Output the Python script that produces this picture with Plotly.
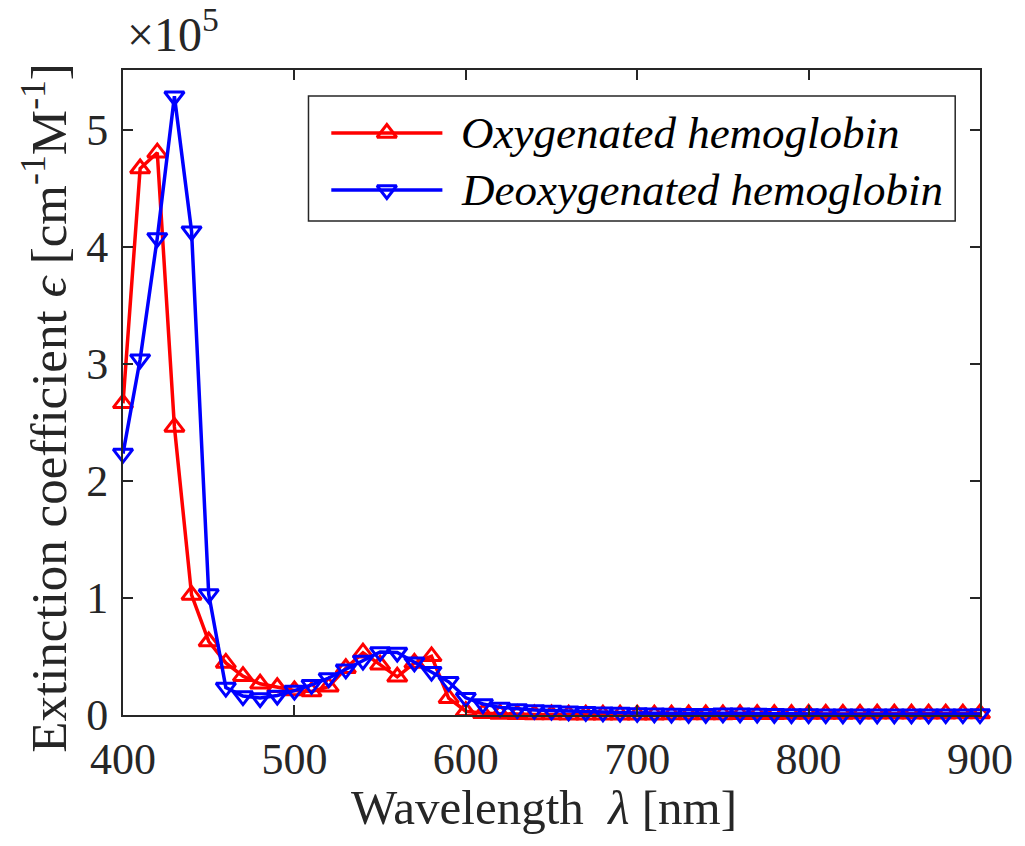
import plotly.graph_objects as go

# Molar extinction coefficients of hemoglobin, 10 nm steps
wavelength_nm = [400, 410, 420, 430, 440, 450, 460, 470, 480, 490,
                 500, 510, 520, 530, 540, 550, 560, 570, 580, 590,
                 600, 610, 620, 630, 640, 650, 660, 670, 680, 690,
                 700, 710, 720, 730, 740, 750, 760, 770, 780, 790,
                 800, 810, 820, 830, 840, 850, 860, 870, 880, 890, 900]

hbo2 = [266232, 466840, 480360, 246072, 102580, 62816, 44480, 33209.2, 26629.2, 23684.4,
        20932.8, 20035.2, 24202.4, 39956.8, 53236, 43016, 32613.2, 44496, 50104, 14400.8,
        3200, 1506, 942, 610, 442, 368, 319.6, 294, 277.6, 276,
        290, 314, 348, 390, 446, 518, 586, 652, 710, 770,
        816, 864, 916, 974, 1022, 1058, 1092, 1128, 1154, 1178, 1198]

hb = [223296, 303956, 407560, 528600, 413280, 103292, 23388.8, 16156.4, 14550, 16684,
      20862, 25773.6, 31589.6, 39036.4, 46592, 53788, 53412, 45072, 37020, 28324.4,
      14677.2, 9443.6, 6509.6, 5148.8, 4345.2, 3750.12, 3226.56, 2795.12, 2407.92, 2051.96,
      1794.28, 1540.48, 1325.88, 1102.2, 1115.88, 1405.24, 1548.52, 1311.88, 1075.44, 890.8,
      761.72, 717.08, 693.76, 693.04, 692.36, 691.32, 694.32, 705.84, 726.44, 743.6, 761.84]

series_names = ["Oxygenated hemoglobin", "Deoxygenated hemoglobin"]
series_colors = ["#FF0000", "#0000FF"]
series_symbols = ["triangle-up-open", "triangle-down-open"]
y_tick_vals = [0, 1e5, 2e5, 3e5, 4e5, 5e5]
y_tick_text = ["0", "1", "2", "3", "4", "5"]
x_tick_vals = [400, 500, 600, 700, 800, 900]

FONT = "Liberation Serif"
AXIS_COLOR = "#262626"
LINE_W = 3.5
MARKER_SIZE = 17
MARKER_LINE_W = 3

W, H = 1025, 846
ML, MR, MT, MB = 123, 38, 70, 131
pw, ph = W - ML - MR, H - MT - MB


def px_x(p):
    return (p - ML) / pw


def px_y(p):
    return (H - MB - p) / ph


fig = go.Figure()
for yvals, name, color, symbol in zip([hbo2, hb], series_names, series_colors, series_symbols):
    fig.add_trace(go.Scatter(
        x=wavelength_nm, y=yvals, name=name, mode="lines+markers",
        line=dict(color=color, width=LINE_W),
        marker=dict(symbol=symbol, size=MARKER_SIZE, color=color,
                    line=dict(width=MARKER_LINE_W, color=color)),
        cliponaxis=False, showlegend=False,
    ))

# Legend box drawn on a pixel-based overlay axis pair
legend_box = dict(x0=310, x1=962, y0=96, y1=221)
legend_rows_y = [133, 190]
sample_x = [333, 445]
text_x = 462

for row_y, name, color, symbol in zip(legend_rows_y, series_names, series_colors, series_symbols):
    fig.add_trace(go.Scatter(
        x=sample_x, y=[row_y, row_y], mode="lines", xaxis="x2", yaxis="y2",
        line=dict(color=color, width=LINE_W), showlegend=False, hoverinfo="skip",
    ))
    fig.add_trace(go.Scatter(
        x=[sum(sample_x) / 2], y=[row_y], mode="markers", xaxis="x2", yaxis="y2",
        marker=dict(symbol=symbol, size=MARKER_SIZE, color=color,
                    line=dict(width=MARKER_LINE_W, color=color)),
        showlegend=False, hoverinfo="skip",
    ))

axis_common = dict(
    showline=True, linecolor=AXIS_COLOR, linewidth=2, mirror="ticks",
    ticks="inside", ticklen=10, tickwidth=2, tickcolor=AXIS_COLOR,
    showgrid=False, zeroline=False,
    tickfont=dict(family=FONT, size=44, color=AXIS_COLOR),
)

annotations = [
    dict(text="Wavelength  <i>λ</i> [nm]", xref="paper", yref="paper",
         x=px_x(547), y=px_y(808), xanchor="center", yanchor="middle",
         showarrow=False, font=dict(family=FONT, size=49, color=AXIS_COLOR)),
    dict(text="Extinction coefficient <i>ϵ</i> [cm<sup>-1</sup>M<sup>-1</sup>]",
         xref="paper", yref="paper", x=px_x(44), y=px_y(408),
         xanchor="center", yanchor="middle", textangle=-90,
         showarrow=False, font=dict(family=FONT, size=51, color=AXIS_COLOR)),
    dict(text="×10<sup>5</sup>", xref="paper", yref="paper",
         x=px_x(125), y=px_y(63), xanchor="left", yanchor="bottom",
         showarrow=False, font=dict(family=FONT, size=48, color=AXIS_COLOR)),
]
for row_y, name in zip(legend_rows_y, series_names):
    annotations.append(dict(
        text=f"<i>{name}</i>", xref="paper", yref="paper",
        x=px_x(text_x), y=px_y(row_y), xanchor="left", yanchor="middle",
        showarrow=False, font=dict(family=FONT, size=45, color="black"),
    ))

fig.update_layout(
    width=W, height=H,
    margin=dict(l=ML, r=MR, t=MT, b=MB, pad=0),
    paper_bgcolor="white", plot_bgcolor="white",
    font=dict(family=FONT, color=AXIS_COLOR),
    xaxis=dict(range=[400, 900], tickvals=x_tick_vals, ticklabelstandoff=4,
               **axis_common),
    yaxis=dict(range=[0, 5.51e5], tickvals=y_tick_vals, ticktext=y_tick_text,
               ticklabelstandoff=4, **axis_common),
    xaxis2=dict(range=[ML, W - MR], overlaying="x", visible=False, fixedrange=True),
    yaxis2=dict(range=[H - MB, MT], overlaying="y", visible=False, fixedrange=True),
    showlegend=False,
    shapes=[dict(type="rect", xref="paper", yref="paper",
                 x0=px_x(legend_box["x0"]), x1=px_x(legend_box["x1"]),
                 y0=px_y(legend_box["y1"]), y1=px_y(legend_box["y0"]),
                 fillcolor="white", line=dict(color=AXIS_COLOR, width=1.5),
                 layer="below")],
    annotations=annotations,
)

fig.write_html("out.html")
